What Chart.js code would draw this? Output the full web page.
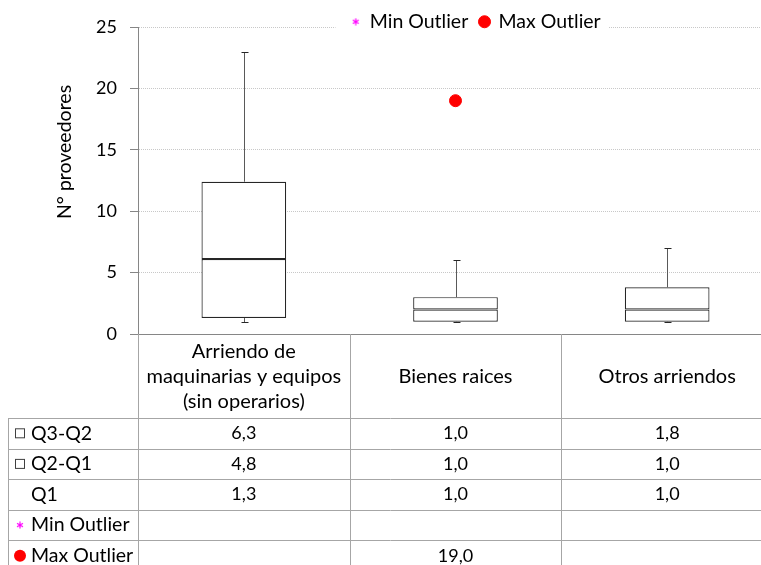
<!DOCTYPE html>
<html>
<head>
<meta charset="utf-8">
<script src="https://cdn.jsdelivr.net/npm/chart.js@4"></script>
<style>
  html, body { margin: 0; padding: 0; background: #fff; overflow: hidden; }
  #wrap { width: 774px; height: 565px; }
</style>
</head>
<body>
<div id="wrap"><canvas id="boxChart" width="774" height="565"></canvas></div>
<script>
const categories = [["Arriendo de", "maquinarias y equipos", "(sin operarios)"], "Bienes raices", "Otros arriendos"];
const q1 = [1.3, 1.0, 1.0];
const q2MinusQ1 = [4.8, 1.0, 1.0];
const q3MinusQ2 = [6.3, 1.0, 1.8];
const whiskerLow = [1, 1, 1];
const whiskerHigh = [23, 6, 7];
const minOutlier = [null, null, null];
const maxOutlier = [null, 19, null];
const yTicks = [0, 5, 10, 15, 20, 25];
const rowLabels = ["Q3-Q2", "Q2-Q1", "Q1", "Min Outlier", "Max Outlier"];
const rowValues = [q3MinusQ2, q2MinusQ1, q1, minOutlier, maxOutlier];

const FONT = "Lato, 'Open Sans', sans-serif";
Chart.defaults.font.family = FONT;
Chart.defaults.color = "#000";

function fmt(v) {
  return v == null ? "" : v.toFixed(1).replace(".", ",");
}

// small magenta asterisk used as marker for "Min Outlier"
const starImg = document.createElement("canvas");
starImg.width = 8;
starImg.height = 8;
let sctx = starImg.getContext("2d");
sctx.strokeStyle = "#ff00ff";
sctx.lineWidth = 1.2;
sctx.beginPath();
sctx.moveTo(4, 0.5); sctx.lineTo(4, 7.5);
sctx.moveTo(1, 2.2); sctx.lineTo(7, 5.8);
sctx.moveTo(1, 5.8); sctx.lineTo(7, 2.2);
sctx.stroke();

const whiskerPlugin = {
  id: "whiskers",
  afterDatasetsDraw(chart) {
    const ctx = chart.ctx;
    const x = chart.scales.x;
    const y = chart.scales.y;
    ctx.save();
    ctx.lineWidth = 1;
    for (let i = 0; i < categories.length; i++) {
      let cx = Math.round(x.getPixelForValue(i)) + 0.5;
      let bottom = y.getPixelForValue(q1[i]);
      let top = y.getPixelForValue(q1[i] + q2MinusQ1[i] + q3MinusQ2[i]);
      let hi = Math.round(y.getPixelForValue(whiskerHigh[i])) + 0.5;
      let lo = Math.round(y.getPixelForValue(whiskerLow[i])) + 0.5;
      ctx.strokeStyle = "#595959";
      ctx.beginPath();
      ctx.moveTo(cx, top); ctx.lineTo(cx, hi);
      ctx.moveTo(cx, bottom); ctx.lineTo(cx, lo);
      ctx.stroke();
      ctx.strokeStyle = "#262626";
      ctx.beginPath();
      ctx.moveTo(cx - 3, hi); ctx.lineTo(cx + 4, hi);
      ctx.moveTo(cx - 3, lo); ctx.lineTo(cx + 4, lo);
      ctx.stroke();
    }
    ctx.restore();
  }
};

const tablePlugin = {
  id: "dataTable",
  afterLayout(chart) {
    // move the legend so its first marker starts where Excel put it
    let lg = chart.legend;
    let pad = lg.options.labels.padding;
    let start = (lg.left + pad + lg.right - lg.lineWidths[0]) / 2;
    let d = 351.5 - start;
    lg.left += d;
    lg.right += d;
  },
  afterDraw(chart) {
    const ctx = chart.ctx;
    const x = chart.scales.x;
    const area = chart.chartArea;

    // white patch behind legend, then redraw it without clipping
    let hb = chart.legend.legendHitBoxes;
    if (hb && hb.length) {
      let last = hb[hb.length - 1];
      ctx.save();
      ctx.fillStyle = "#fff";
      ctx.fillRect(hb[0].left - 16, 8, last.left + last.width - hb[0].left + 24, 26);
      chart.legend._draw();
      ctx.restore();
    }

    let edges = [area.left];
    for (let i = 0; i < categories.length - 1; i++) {
      edges.push((x.getPixelForValue(i) + x.getPixelForValue(i + 1)) / 2);
    }
    edges.push(area.right);

    const tableTop = 418;
    const rowH = 30.6;
    const tableLeft = 8;
    const bottom = chart.height;

    ctx.save();
    ctx.strokeStyle = "#a6a6a6";
    ctx.lineWidth = 1;
    ctx.beginPath();
    edges.forEach(e => {
      ctx.moveTo(Math.round(e) + 0.5, area.bottom);
      ctx.lineTo(Math.round(e) + 0.5, bottom);
    });
    ctx.moveTo(tableLeft + 0.5, tableTop);
    ctx.lineTo(tableLeft + 0.5, bottom);
    for (let r = 0; r < rowLabels.length; r++) {
      let ly = Math.round(tableTop + r * rowH) + 0.5;
      ctx.moveTo(tableLeft, ly);
      ctx.lineTo(area.right, ly);
    }
    ctx.stroke();

    ctx.fillStyle = "#000";
    ctx.textBaseline = "middle";
    for (let r = 0; r < rowLabels.length; r++) {
      let cy = tableTop + r * rowH + rowH / 2;
      // legend keys
      if (r < 2) {
        ctx.save();
        ctx.fillStyle = "#fff";
        ctx.strokeStyle = "#404040";
        ctx.fillRect(15, cy - 5, 10, 10);
        ctx.strokeRect(15.5, cy - 4.5, 9, 9);
        ctx.restore();
      } else if (r === 3) {
        ctx.drawImage(starImg, 20 - 4, cy - 4);
      } else if (r === 4) {
        ctx.save();
        ctx.fillStyle = "#ff0000";
        ctx.beginPath();
        ctx.arc(20, cy, 6, 0, Math.PI * 2);
        ctx.fill();
        ctx.restore();
      }
      ctx.font = "19.5px " + FONT;
      ctx.textAlign = "left";
      ctx.fillText(rowLabels[r], 31, cy);
      ctx.font = "18px " + FONT;
      ctx.textAlign = "center";
      for (let c = 0; c < categories.length; c++) {
        ctx.fillText(fmt(rowValues[r][c]), x.getPixelForValue(c), cy);
      }
    }

    // axis title
    ctx.font = "19.5px " + FONT;
    ctx.translate(65, 152);
    ctx.rotate(-Math.PI / 2);
    ctx.textAlign = "center";
    ctx.fillText("N° proveedores", 0, 0);
    ctx.restore();
  }
};

const boxStyle = {
  backgroundColor: "#ffffff",
  borderColor: "#262626",
  borderWidth: 1.2,
  borderSkipped: false,
  categoryPercentage: 1,
  barPercentage: 0.4,
  stack: "box"
};

new Chart(document.getElementById("boxChart"), {
  type: "bar",
  data: {
    labels: categories,
    datasets: [
      {
        label: "Q1",
        data: q1,
        backgroundColor: "rgba(0,0,0,0)",
        borderWidth: 0,
        categoryPercentage: 1,
        barPercentage: 0.4,
        stack: "box"
      },
      Object.assign({ label: "Q2-Q1", data: q2MinusQ1 }, boxStyle),
      Object.assign({ label: "Q3-Q2", data: q3MinusQ2 }, boxStyle),
      {
        type: "line",
        label: "Min Outlier",
        data: minOutlier,
        showLine: false,
        pointStyle: starImg,
        borderColor: "#ff00ff",
        backgroundColor: "#ff00ff",
        stack: "min"
      },
      {
        type: "line",
        label: "Max Outlier",
        data: maxOutlier,
        showLine: false,
        pointStyle: "circle",
        pointRadius: 6,
        borderColor: "#ff0000",
        backgroundColor: "#ff0000",
        stack: "max"
      }
    ]
  },
  options: {
    responsive: false,
    animation: false,
    events: [],
    layout: { autoPadding: false, padding: { top: 0, left: 0, right: 1, bottom: 0 } },
    plugins: {
      tooltip: { enabled: false },
      legend: {
        position: "top",
        fullSize: false,
        maxHeight: 27,
        labels: {
          usePointStyle: true,
          boxWidth: 8.5,
          boxHeight: 8.5,
          padding: 12,
          color: "#000",
          font: { size: 19.5 },
          filter: item => item.datasetIndex >= 3
        }
      }
    },
    scales: {
      x: {
        stacked: true,
        grid: { display: false, drawTicks: false },
        border: { display: true, color: "#868686", width: 1 },
        ticks: {
          autoSkip: false,
          maxRotation: 0,
          minRotation: 0,
          padding: 18,
          crossAlign: "center",
          color: "#000",
          font: { size: 20, lineHeight: 1.25 }
        },
        afterFit(scale) {
          scale.height = 231;
          scale.paddingLeft = 0;
          scale.paddingRight = 0;
        }
      },
      y: {
        stacked: true,
        min: 0,
        max: 25,
        afterBuildTicks(scale) {
          scale.ticks = yTicks.map(v => ({ value: v }));
        },
        grid: {
          color: "#c8c8c8",
          tickColor: "#868686",
          tickLength: 8
        },
        border: { display: true, color: "#868686", width: 1, dash: [1, 1] },
        ticks: {
          padding: 13,
          color: "#000",
          font: { size: 18 }
        },
        afterFit(scale) {
          scale.width = 138;
        }
      }
    }
  },
  plugins: [whiskerPlugin, tablePlugin]
});
</script>
</body>
</html>
